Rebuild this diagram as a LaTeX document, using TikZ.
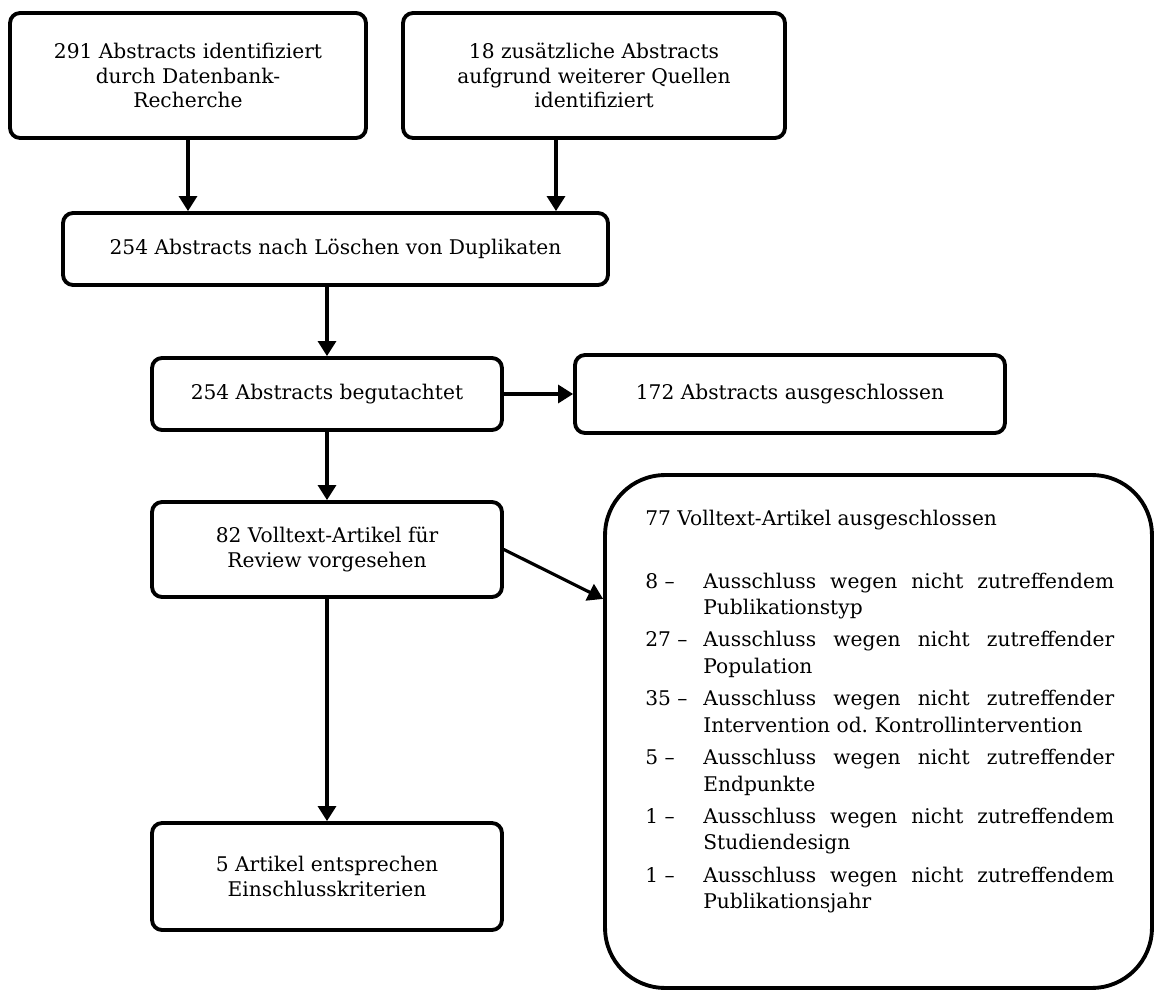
\documentclass[tikz,border=0pt]{standalone}
\usepackage{fontspec}
\setmainfont{DejaVu Serif}
\usetikzlibrary{arrows.meta}
\newcommand{\exclline}[2]{\par\vspace{3.5pt}\noindent\hangindent=1.16cm\hangafter=1\makebox[1.16cm][l]{#1 –}#2}
\begin{document}
\begin{tikzpicture}[line join=round,line cap=round,x=0.02cm,y=-0.02cm,
	font=\fontsize{11.5}{13.8}\selectfont,
	box/.style={draw,line width=2.2pt,rounded corners=0.2cm,align=center,inner sep=0pt},
	arr/.style={-{Triangle[length=0.3cm,width=0.36cm]},line width=1.8pt}]
			\useasboundingbox (0,0) rectangle (1154,990);
			\node[box,minimum width=7.12cm,minimum height=2.5cm] (absdb) at (188,75.5)
				{291 Abstracts identifiziert\\durch Datenbank-\\Recherche};
			\node[box,minimum width=7.64cm,minimum height=2.5cm] (absother) at (594,75.5)
				{18 zusätzliche Abstracts\\aufgrund weiterer Quellen\\identifiziert};
			\node[box,minimum width=10.9cm,minimum height=1.44cm] (nodup) at (335.5,249)
				{254 Abstracts nach Löschen von Duplikaten};
			\node[box,minimum width=7cm,minimum height=1.44cm] (screened) at (327,394)
				{254 Abstracts begutachtet};
			\node[box,minimum width=8.6cm,minimum height=1.56cm] (excla) at (790,394)
				{172 Abstracts ausgeschlossen};
			\node[box,minimum width=7cm,minimum height=1.9cm] (fulltext) at (327,549.5)
				{82 Volltext-Artikel für\\Review vorgesehen};
			\node[box,minimum width=7cm,minimum height=2.14cm] (incl) at (327,876.5)
				{5 Artikel entsprechen\\Einschlusskriterien};
			\node[box,rounded corners=1.2cm,minimum width=10.94cm,minimum height=10.26cm] (exclb) at (878.5,731.5) {};
			\node[anchor=north west,inner sep=0pt,text width=9.38cm,align=justify,
				font=\fontsize{11.5}{15}\selectfont] (exclblist) at (645,510)
				{\hyphenpenalty=10000\exhyphenpenalty=10000
				77 Volltext-Artikel ausgeschlossen\par\vspace{17pt}
				\exclline{8}{Ausschluss wegen nicht zutreffendem Publikationstyp}
				\exclline{27}{Ausschluss wegen nicht zutreffender Population}
				\exclline{35}{Ausschluss wegen nicht zutreffender Intervention od.~Kontrollintervention}
				\exclline{5}{Ausschluss wegen nicht zutreffender Endpunkte}
				\exclline{1}{Ausschluss wegen nicht zutreffendem Studiendesign}
				\exclline{1}{Ausschluss wegen nicht zutreffendem Publikationsjahr}\par};
			\draw[arr] (absdb.south) -- (absdb.south |- nodup.north);
			\draw[arr] ([xshift=-0.76cm]absother.south) -- ([xshift=-0.76cm]absother.south |- nodup.north);
			\draw[arr] (nodup.south -| screened.north) -- (screened.north);
			\draw[arr] (screened.east) -- (excla.west);
			\draw[arr] (screened.south) -- (fulltext.north);
			\draw[arr] (fulltext.east) -- (exclb.west |- fulltext.south);
			\draw[arr] (fulltext.south) -- (incl.north);
	\end{tikzpicture}
\end{document}
